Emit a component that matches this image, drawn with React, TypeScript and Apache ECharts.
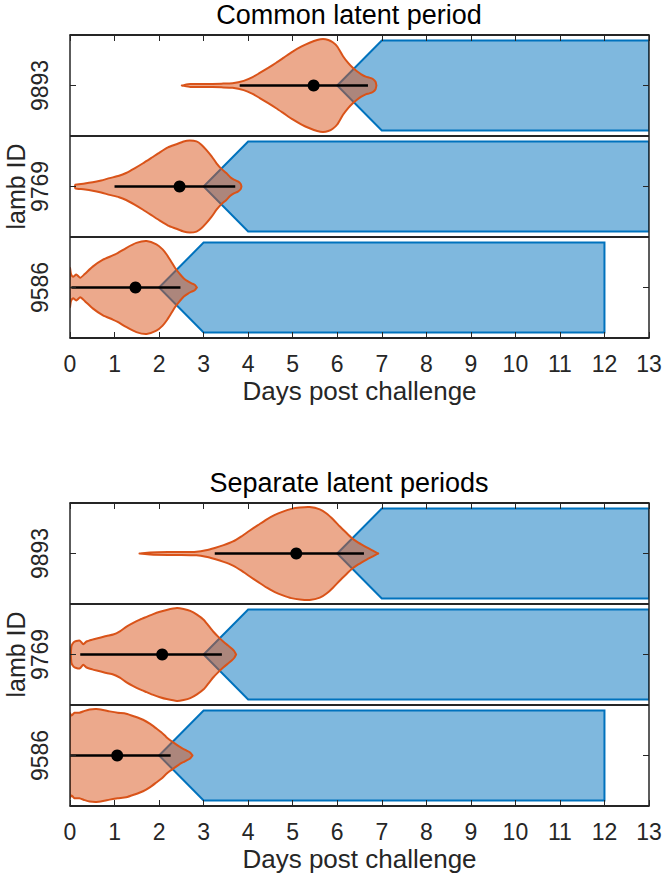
import React, { useEffect, useRef } from 'react';
import * as echarts from 'echarts';

// Rows listed bottom to top
const lambIds = ['9586', '9769', '9893'];
const panelTitles = ['Common latent period', 'Separate latent periods'];
const xAxisName = 'Days post challenge';
const yAxisName = 'lamb ID';
const xMin = 0;
const xMax = 13;
const xStep = 1;

// Infectious period: onset (day), full infectiousness (day), end (day)
const infStart = [2, 3, 6];
const infFull = [3, 4, 7];
const infEnd = [12, 13, 13];

// Common latent period: median and interval
const commonMedian = [1.47, 2.46, 5.47];
const commonLow = [0.03, 1.0, 3.81];
const commonHigh = [2.48, 3.71, 6.69];

// Separate latent periods: median and interval
const sepMedian = [1.06, 2.07, 5.08];
const sepLow = [0.0, 0.23, 3.25];
const sepHigh = [2.26, 3.41, 6.6];

// Violin profiles: [day, relative density]
const commonViolin9586 = [
  [0, 0.42], [0.02, 0.3], [0.07, 0.23], [0.14, 0.28], [0.23, 0.21], [0.33, 0.29],
  [0.51, 0.45], [0.74, 0.6], [0.96, 0.69], [1.07, 0.74], [1.26, 0.85], [1.49, 0.96],
  [1.72, 1.0], [1.94, 0.93], [2.08, 0.82], [2.17, 0.71], [2.27, 0.56], [2.36, 0.42],
  [2.45, 0.31], [2.55, 0.2], [2.65, 0.13], [2.73, 0.09], [2.8, 0.06], [2.85, 0],
];
const commonViolin9769 = [
  [0.12, 0.04], [0.3, 0.06], [0.51, 0.09], [0.7, 0.13], [0.89, 0.18], [1.1, 0.23],
  [1.26, 0.29], [1.45, 0.39], [1.64, 0.5], [1.85, 0.63], [2.01, 0.73], [2.2, 0.84],
  [2.39, 0.91], [2.55, 0.97], [2.69, 0.99], [2.84, 0.97], [2.95, 0.9], [3.06, 0.79],
  [3.18, 0.65], [3.29, 0.5], [3.4, 0.38], [3.51, 0.29], [3.6, 0.2], [3.68, 0.15],
  [3.77, 0.11], [3.83, 0.06], [3.85, 0],
];
const commonViolin9893 = [
  [2.51, 0], [2.7, 0.03], [3.0, 0.03], [3.4, 0.04], [3.65, 0.05], [3.9, 0.1],
  [4.1, 0.18], [4.26, 0.27], [4.45, 0.38], [4.63, 0.49], [4.8, 0.6], [5.0, 0.73],
  [5.2, 0.84], [5.38, 0.92], [5.55, 0.98], [5.68, 1.0], [5.8, 0.98], [5.9, 0.93],
  [6.0, 0.84], [6.13, 0.63], [6.25, 0.48], [6.35, 0.38], [6.45, 0.3], [6.54, 0.24],
  [6.64, 0.19], [6.72, 0.17], [6.8, 0.14], [6.86, 0.08], [6.88, 0],
];
const sepViolin9586 = [
  [0, 0.91], [0.03, 0.86], [0.06, 0.88], [0.1, 0.92], [0.21, 0.92], [0.33, 0.96],
  [0.44, 0.99], [0.59, 1.0], [0.74, 0.98], [0.89, 0.95], [1.07, 0.92], [1.26, 0.9],
  [1.45, 0.84], [1.64, 0.77], [1.8, 0.68], [1.94, 0.58], [2.05, 0.5], [2.16, 0.4],
  [2.25, 0.33], [2.35, 0.26], [2.44, 0.2], [2.53, 0.15], [2.61, 0.11], [2.69, 0.07],
  [2.75, 0],
];
const sepViolin9769 = [
  [0.03, 0.17], [0.08, 0.26], [0.14, 0.29], [0.22, 0.3], [0.3, 0.22], [0.37, 0.28],
  [0.5, 0.32], [0.67, 0.36], [0.82, 0.4], [0.97, 0.43], [1.12, 0.5], [1.27, 0.6],
  [1.42, 0.68], [1.57, 0.75], [1.72, 0.81], [1.87, 0.87], [2.02, 0.92], [2.17, 0.96],
  [2.4, 1.0], [2.55, 0.98], [2.7, 0.94], [2.85, 0.86], [3.0, 0.75], [3.11, 0.62],
  [3.22, 0.49], [3.33, 0.38], [3.44, 0.28], [3.54, 0.2], [3.63, 0.13], [3.69, 0.07],
  [3.73, 0],
];
const sepViolin9893 = [
  [1.56, 0], [1.8, 0.02], [2.2, 0.03], [2.5, 0.03], [2.84, 0.04], [3.05, 0.07],
  [3.25, 0.12], [3.45, 0.18], [3.66, 0.26], [3.85, 0.37], [4.03, 0.49], [4.22, 0.61],
  [4.41, 0.73], [4.6, 0.83], [4.78, 0.9], [4.97, 0.96], [5.16, 0.99], [5.38, 1.0],
  [5.61, 0.95], [5.76, 0.86], [5.91, 0.73], [6.06, 0.58], [6.21, 0.44], [6.32, 0.34],
  [6.43, 0.26], [6.55, 0.19], [6.66, 0.13], [6.8, 0.06], [6.86, 0.03], [6.92, 0],
];

const commonViolins = [commonViolin9586, commonViolin9769, commonViolin9893];
const sepViolins = [sepViolin9586, sepViolin9769, sepViolin9893];

const FONT = '"Liberation Sans", Arial, Helvetica, sans-serif';
const AX = '#262626';
const BLUE = '#0072BD';
const ORANGE = '#D95319';

function makeRender(violins: number[][][], lows: number[], highs: number[], meds: number[]) {
  return (params: any, api: any) => {
    const i = api.value(1) as number;
    const c = api.coord([0, i]);
    const cy = c[1];
    const band = (api.size([0, 1]) as number[])[1];
    const px = (x: number) => api.coord([x, i])[0];
    const bh = 0.445 * band;
    const vh = 0.46 * band;
    const bluePts = [
      [px(infStart[i]), cy],
      [px(infFull[i]), cy - bh],
      [px(infEnd[i]), cy - bh],
      [px(infEnd[i]), cy + bh],
      [px(infFull[i]), cy + bh],
    ];
    const v = violins[i];
    const top = v.map(([x, d]) => [px(x), cy - d * vh]);
    const bot = v.slice().reverse().map(([x, d]) => [px(x), cy + d * vh]);
    return {
      type: 'group',
      children: [
        {
          type: 'polygon',
          shape: { points: bluePts },
          style: { fill: 'rgba(0,114,189,0.5)', stroke: BLUE, lineWidth: 2, lineJoin: 'miter' },
        },
        {
          type: 'polygon',
          shape: { points: top.concat(bot), smooth: 0.2 },
          style: { fill: 'rgba(217,83,25,0.5)', stroke: ORANGE, lineWidth: 2, lineJoin: 'round' },
        },
        {
          type: 'line',
          shape: { x1: px(lows[i]), y1: cy, x2: px(highs[i]), y2: cy },
          style: { stroke: '#000', lineWidth: 2.5 },
        },
        {
          type: 'circle',
          shape: { cx: px(meds[i]), cy, r: 6 },
          style: { fill: '#000' },
        },
      ],
    };
  };
}

export default function App() {
  const ref = useRef<HTMLDivElement>(null);
  useEffect(() => {
    document.body.style.margin = '0';
    if (!ref.current) return;
    const chart = echarts.init(ref.current, undefined, { renderer: 'svg' });
    const gridTops = [35, 503];
    const gridH = 303;
    const grids = gridTops.map((t) => ({
      left: 70, right: 17, top: t, height: gridH, containLabel: false, outerBoundsMode: 'none',
    }));
    const xAxes: any[] = [];
    const yAxes: any[] = [];
    [0, 1].forEach((g) => {
      xAxes.push({
        type: 'value', gridIndex: g, min: xMin, max: xMax, interval: xStep, position: 'bottom', z: 10,
        axisLine: { show: true, onZero: false, lineStyle: { color: AX, width: 1.5 } },
        axisTick: { show: true, inside: true, length: 6, lineStyle: { color: AX, width: 1 } },
        axisLabel: { show: true, color: AX, fontSize: 23, fontFamily: FONT, margin: 14 },
        splitLine: { show: false },
        name: xAxisName, nameLocation: 'middle', nameGap: 40, nameMoveOverlap: false,
        nameTextStyle: { color: AX, fontSize: 26, fontFamily: FONT },
      });
      xAxes.push({
        type: 'value', gridIndex: g, min: xMin, max: xMax, interval: xStep, position: 'top', z: 10,
        axisLine: { show: true, onZero: false, lineStyle: { color: AX, width: 1.5 } },
        axisTick: { show: true, inside: true, length: 6, lineStyle: { color: AX, width: 1 } },
        axisLabel: { show: false },
        splitLine: { show: false },
      });
      yAxes.push({
        type: 'category', gridIndex: g, data: lambIds, position: 'left', z: 10,
        axisLine: { show: true, onZero: false, lineStyle: { color: AX, width: 1.5 } },
        axisTick: { show: true, inside: true, alignWithLabel: true, length: 6, lineStyle: { color: AX, width: 1 } },
        axisLabel: { show: true, rotate: 90, color: AX, fontSize: 23, fontFamily: FONT, margin: 19 },
        splitLine: { show: true, lineStyle: { color: AX, width: 2 } },
        name: yAxisName, nameLocation: 'middle', nameGap: 42, nameMoveOverlap: false,
        nameTextStyle: { color: AX, fontSize: 25, fontFamily: FONT },
      });
      yAxes.push({
        type: 'category', gridIndex: g, data: lambIds, position: 'right', z: 10,
        axisLine: { show: true, onZero: false, lineStyle: { color: AX, width: 1.5 } },
        axisTick: { show: true, inside: true, alignWithLabel: true, length: 6, lineStyle: { color: AX, width: 1 } },
        axisLabel: { show: false },
        splitLine: { show: false },
      });
    });
    const rowData = lambIds.map((id, k) => [0, k]);
    chart.setOption({
      animation: false,
      backgroundColor: '#fff',
      grid: grids,
      xAxis: xAxes,
      yAxis: yAxes,
      graphic: panelTitles.map((t, k) => ({
        type: 'text', x: 349, y: gridTops[k] - 20.5,
        style: { text: t, fontSize: 27, fontFamily: FONT, fill: '#000', textAlign: 'center', textVerticalAlign: 'middle' },
      })),
      series: [
        {
          type: 'custom', xAxisIndex: 0, yAxisIndex: 0, clip: true,
          renderItem: makeRender(commonViolins, commonLow, commonHigh, commonMedian),
          data: rowData,
        },
        {
          type: 'custom', xAxisIndex: 2, yAxisIndex: 2, clip: true,
          renderItem: makeRender(sepViolins, sepLow, sepHigh, sepMedian),
          data: rowData,
        },
      ],
    });
    return () => chart.dispose();
  }, []);
  return <div ref={ref} style={{ width: 666, height: 878 }} />;
}
